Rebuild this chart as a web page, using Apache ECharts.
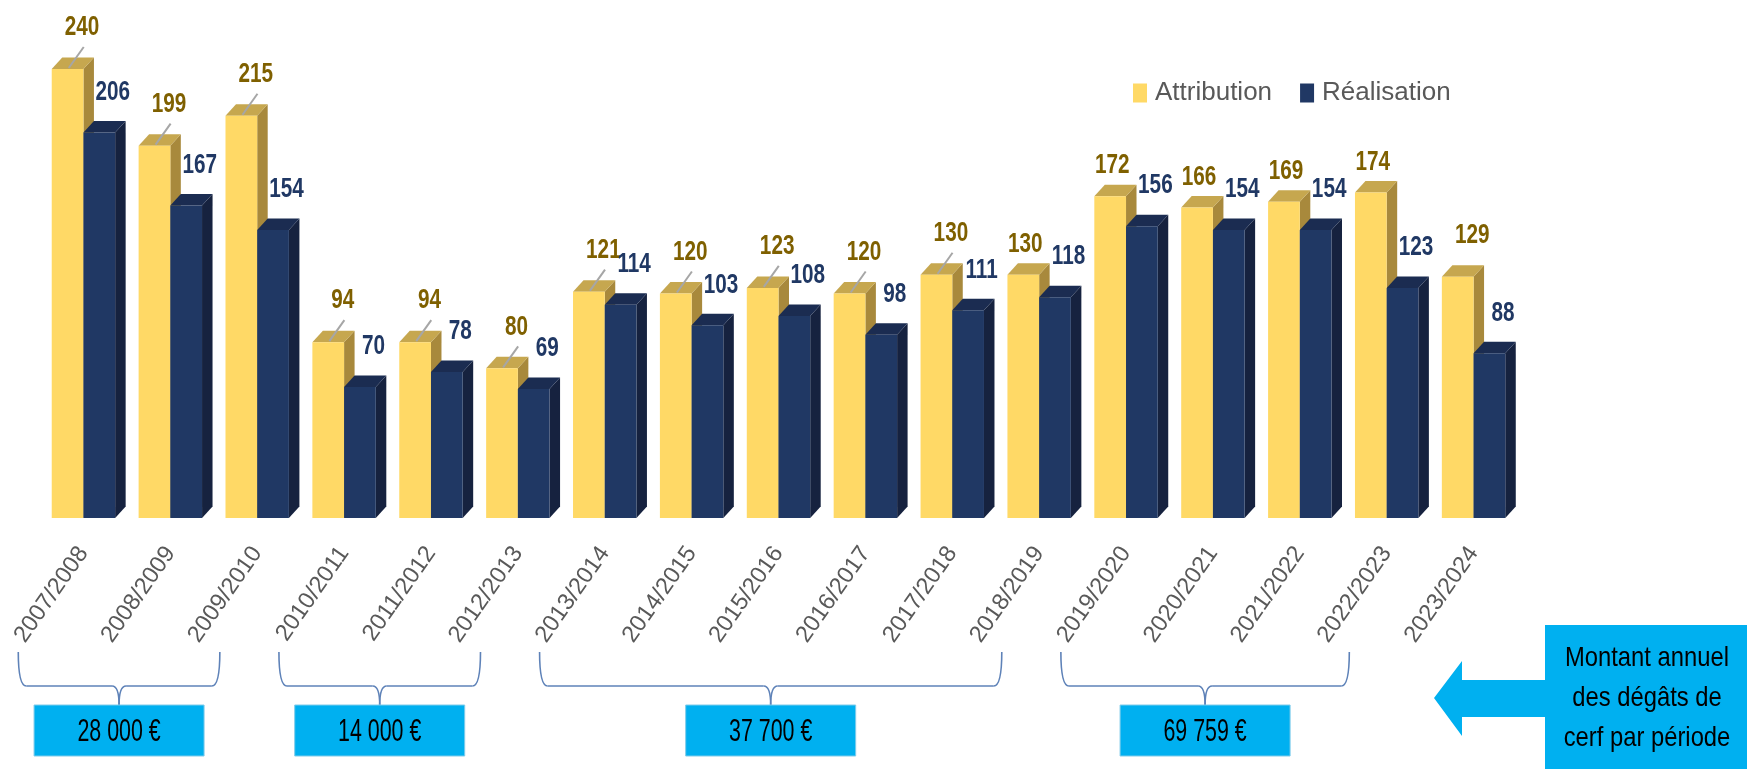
<!DOCTYPE html>
<html>
<head>
<meta charset="utf-8">
<title>Attribution et réalisation</title>
<script src="https://cdn.jsdelivr.net/npm/echarts@6/dist/echarts.min.js"></script>
<style>
  html, body { margin: 0; padding: 0; background: #ffffff; }
  #chart { width: 1747px; height: 769px; }
</style>
</head>
<body>
<div id="chart"></div>
<script>
// Seasons and the two annual series
const seasons = ['2007/2008', '2008/2009', '2009/2010', '2010/2011', '2011/2012', '2012/2013',
  '2013/2014', '2014/2015', '2015/2016', '2016/2017', '2017/2018', '2018/2019',
  '2019/2020', '2020/2021', '2021/2022', '2022/2023', '2023/2024'];
const attribution = [240, 199, 215, 94, 94, 80, 121, 120, 123, 120, 130, 130, 172, 166, 169, 174, 129];
const realisation = [206, 167, 154, 70, 78, 69, 114, 103, 108, 98, 111, 118, 156, 154, 154, 123, 88];

// Yearly damage amount for each group of seasons (first and last season index)
const periodAmounts = ['28 000 €', '14 000 €', '37 700 €', '69 759 €'];
const periodRanges = [[0, 2], [3, 5], [6, 11], [12, 15]];
const calloutText = ['Montant annuel', 'des dégâts de', 'cerf par période'];

// Attribution labels pulled up and to the right, and those with a leader line
const liftedLabels = seasons.slice(0, 11).concat(['2023/2024']);
const leaderLabels = seasons.slice(0, 11);

const FACES = {
  attribution: { front: '#FFD966', side: '#A8893C', top: '#C6A74F', label: '#7F6000' },
  realisation: { front: '#203864', side: '#16223F', top: '#1B2C51', label: '#203864' }
};
const DX = 10.5, DY = 11.5;
const LABEL_FONT = 'bold 28px "Liberation Sans", Arial, sans-serif';
const TEXT_FONT = '"Liberation Sans", Arial, sans-serif';

// Pseudo-3D column: front, right side and top faces, plus its value label
function columnRenderer(key, placeLeft) {
  const pal = FACES[key];
  return function (params, api) {
    const idx = api.value(0);
    const val = api.value(1);
    const top = api.coord([idx, val]);
    const base = api.coord([idx, 0]);
    const band = api.size([1, 0])[0];
    const w = band * 0.365;
    const x0 = placeLeft ? top[0] - w : top[0];
    const x1 = x0 + w;
    const yT = top[1], yB = base[1];
    const children = [
      { type: 'polygon', shape: { points: [[x1, yT], [x1 + DX, yT - DY], [x1 + DX, yB - DY], [x1, yB]] },
        style: { fill: pal.side } },
      { type: 'polygon', shape: { points: [[x0, yT], [x0 + DX, yT - DY], [x1 + DX, yT - DY], [x1, yT]] },
        style: { fill: pal.top } },
      { type: 'rect', shape: { x: x0, y: yT, width: w, height: yB - yT },
        style: { fill: pal.front } }
    ];
    const season = seasons[idx];
    let lx = (x0 + x1) / 2 + 2, ly = yT - 30.5;
    if (key === 'realisation') { lx = (x0 + x1) / 2 + 13.5; ly = yT - 40.5; }
    else if (liftedLabels.includes(season)) { lx = (x0 + x1) / 2 + 14.5; ly = yT - 41.5; }
    if (key === 'attribution' && leaderLabels.includes(season)) {
      children.push({ type: 'line', z2: 40,
        shape: { x1: x0 + 17, y1: yT - 1, x2: x0 + 32, y2: yT - 22 },
        style: { stroke: '#A6A6A6', lineWidth: 2 } });
    }
    children.push({ type: 'text', x: lx, y: ly, scaleX: 0.74, z2: 50,
      style: { text: String(val), font: LABEL_FONT, fill: pal.label, align: 'center', verticalAlign: 'middle' } });
    return { type: 'group', children };
  };
}

const chart = echarts.init(document.getElementById('chart'));
chart.setOption({
  backgroundColor: '#ffffff',
  animation: false,
  grid: { left: 40, right: 230, top: 69, bottom: 251 },
  legend: {
    left: 1128, top: 75, icon: 'rect', itemWidth: 14, itemHeight: 19, itemGap: 28,
    data: ['Attribution', 'Réalisation'],
    textStyle: { fontSize: 26, color: '#595959', fontFamily: TEXT_FONT, padding: [0, 0, 0, 3] }
  },
  xAxis: {
    type: 'category', data: seasons,
    axisLine: { show: false }, axisTick: { show: false },
    axisLabel: { interval: 0, rotate: 55, margin: 31, fontSize: 23.5, color: '#595959', fontFamily: TEXT_FONT }
  },
  yAxis: { type: 'value', min: 0, max: 240, show: false, splitLine: { show: false } },
  series: [
    { name: 'Attribution', type: 'custom', clip: false, itemStyle: { color: FACES.attribution.front },
      renderItem: columnRenderer('attribution', true),
      data: attribution.map((v, i) => [i, v]), encode: { x: 0, y: 1 } },
    { name: 'Réalisation', type: 'custom', clip: false, itemStyle: { color: FACES.realisation.front },
      renderItem: columnRenderer('realisation', false),
      data: realisation.map((v, i) => [i, v]), encode: { x: 0, y: 1 } }
  ]
});

// Braces grouping the seasons, amount boxes and the explanatory callout
const cx = i => chart.convertToPixel({ xAxisIndex: 0 }, i);
const band = cx(1) - cx(0);
const BRACE = { top: 652, line: 686, tip: 705, r: 8, color: '#5E82B8' };
const BOX = { w: 170, h: 51, fill: '#00B0F0' };
const graphics = [];

periodRanges.forEach((rng, k) => {
  const xl = cx(rng[0]) - 0.75 * band;
  const xr = cx(rng[1]) - 0.43 * band;
  const xm = (xl + xr) / 2;
  const st = { stroke: BRACE.color, lineWidth: 1.6, fill: null };
  graphics.push(
    { type: 'bezierCurve', shape: { x1: xl, y1: BRACE.top, x2: xl + BRACE.r, y2: BRACE.line, cpx1: xl, cpy1: BRACE.line }, style: st },
    { type: 'line', shape: { x1: xl + BRACE.r, y1: BRACE.line, x2: xm - 7, y2: BRACE.line }, style: st },
    { type: 'bezierCurve', shape: { x1: xm - 7, y1: BRACE.line, x2: xm, y2: BRACE.tip, cpx1: xm, cpy1: BRACE.line }, style: st },
    { type: 'bezierCurve', shape: { x1: xm, y1: BRACE.tip, x2: xm + 7, y2: BRACE.line, cpx1: xm, cpy1: BRACE.line }, style: st },
    { type: 'line', shape: { x1: xm + 7, y1: BRACE.line, x2: xr - BRACE.r, y2: BRACE.line }, style: st },
    { type: 'bezierCurve', shape: { x1: xr - BRACE.r, y1: BRACE.line, x2: xr, y2: BRACE.top, cpx1: xr, cpy1: BRACE.line }, style: st },
    { type: 'rect', shape: { x: xm - BOX.w / 2, y: BRACE.tip, width: BOX.w, height: BOX.h },
      style: { fill: BOX.fill, stroke: '#7FCBEA', lineWidth: 1 } },
    { type: 'text', x: xm, y: BRACE.tip + BOX.h / 2 + 2, scaleX: 0.69,
      style: { text: periodAmounts[k], font: '31px ' + TEXT_FONT, fill: '#000000', align: 'center', verticalAlign: 'middle' } }
  );
});

// Arrow pointing to the amounts, and the callout box at the right edge
graphics.push(
  { type: 'polygon', shape: { points: [[1434, 698], [1462, 661], [1462, 680], [1546, 680], [1546, 717], [1462, 717], [1462, 736]] },
    style: { fill: BOX.fill } },
  { type: 'rect', shape: { x: 1545, y: 625, width: 210, height: 150 }, style: { fill: BOX.fill } },
  { type: 'text', x: 1647, y: 698, scaleX: 0.85,
    style: { text: calloutText.join('\n'), font: '28px ' + TEXT_FONT, lineHeight: 40, fill: '#000000', align: 'center', verticalAlign: 'middle' } }
);

chart.setOption({ graphic: graphics });
</script>
</body>
</html>
